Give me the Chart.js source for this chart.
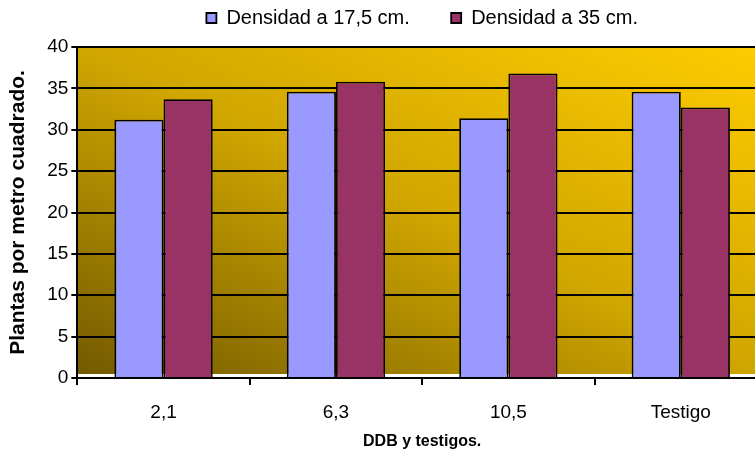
<!DOCTYPE html>
<html>
<head>
<meta charset="utf-8">
<script src="https://cdn.jsdelivr.net/npm/chart.js@4.4.1/dist/chart.umd.min.js"></script>
<style>
  html, body { margin: 0; padding: 0; background: #fff; overflow: hidden; }
  #wrap { width: 755px; height: 457px; overflow: hidden; }
</style>
</head>
<body>
<div id="wrap"><canvas id="chart" width="772" height="457"></canvas></div>
<script>
// DDB y testigos - plantas por metro cuadrado

const categories = ['2,1', '6,3', '10,5', 'Testigo'];
const seriesNames = ['Densidad a 17,5 cm.', 'Densidad a 35 cm.'];
const density175 = [31.2, 34.6, 31.4, 34.6];
const density35 = [33.7, 35.8, 36.8, 32.7];
const yTicks = [0, 5, 10, 15, 20, 25, 30, 35, 40];

const FONT = '"Liberation Sans", Arial, sans-serif';

// Excel-like diagonal gradient behind the plot area
const plotBackground = {
    id: 'plotBackground',
    beforeDraw(chart) {
        const { ctx, chartArea: a } = chart;
        ctx.save();
        ctx.translate(a.left, a.top);
        ctx.scale(a.width, a.height - 4);
        const g = ctx.createLinearGradient(0, 1, 1, 0);
        g.addColorStop(0, '#735a00');
        g.addColorStop(0.5, '#d0a600');
        g.addColorStop(1, '#ffcc00');
        ctx.fillStyle = g;
        ctx.fillRect(0, 0, 1, 1);
        ctx.restore();
    }
};

// push the plot area down below the legend
const legendGap = {
    id: 'legendGap',
    beforeInit(chart) {
        const origFit = chart.legend.fit;
        chart.legend.fit = function () {
            origFit.call(this);
            this.height = 47;
        };
    }
};

Chart.defaults.font.family = FONT;
Chart.defaults.color = '#000';

new Chart(document.getElementById('chart').getContext('2d'), {
    type: 'bar',
    data: {
        labels: categories,
        datasets: [
            {
                label: seriesNames[0],
                data: density175,
                backgroundColor: '#9999ff',
                borderColor: '#000',
                borderWidth: 1.8
            },
            {
                label: seriesNames[1],
                data: density35,
                backgroundColor: '#993366',
                borderColor: '#000',
                borderWidth: 1.8
            }
        ]
    },
    plugins: [plotBackground, legendGap],
    options: {
        responsive: false,
        animation: false,
        layout: { padding: { left: 5, right: 5, top: 0, bottom: 6 } },
        datasets: {
            bar: { categoryPercentage: 0.57, barPercentage: 1.0 }
        },
        scales: {
            x: {
                grid: {
                    offset: true,
                    drawOnChartArea: false,
                    drawTicks: true,
                    tickLength: 7,
                    color: '#000',
                    lineWidth: 2
                },
                border: { color: '#000', width: 2 },
                ticks: { font: { size: 19 }, padding: 16 },
                title: {
                    display: true,
                    text: 'DDB y testigos.',
                    font: { size: 16, weight: 'bold' },
                    padding: { top: -8, bottom: 0 }
                }
            },
            y: {
                min: 0,
                max: 40,
                afterBuildTicks(axis) {
                    axis.ticks = yTicks.map(v => ({ value: v }));
                },
                grid: { color: '#000', lineWidth: 2, tickLength: 6 },
                border: { color: '#000', width: 2 },
                ticks: { font: { size: 19 }, padding: 3 },
                title: {
                    display: true,
                    text: 'Plantas por metro cuadrado.',
                    font: { size: 21, weight: 'bold' },
                    padding: { top: 1, bottom: 13 }
                }
            }
        },
        plugins: {
            legend: {
                position: 'top',
                fullSize: false,
                labels: {
                    boxWidth: 10,
                    boxHeight: 10,
                    padding: 8,
                    font: { size: 20 },
                    color: '#000',
                    generateLabels(chart) {
                        const items = Chart.defaults.plugins.legend.labels.generateLabels(chart);
                        // wider gap between the two entries, as in the original
                        items.forEach((it, i) => {
                            if (i < items.length - 1) it.text = it.text + '      ';
                        });
                        return items;
                    }
                }
            },
            tooltip: { enabled: false }
        }
    }
});
</script>
</body>
</html>
